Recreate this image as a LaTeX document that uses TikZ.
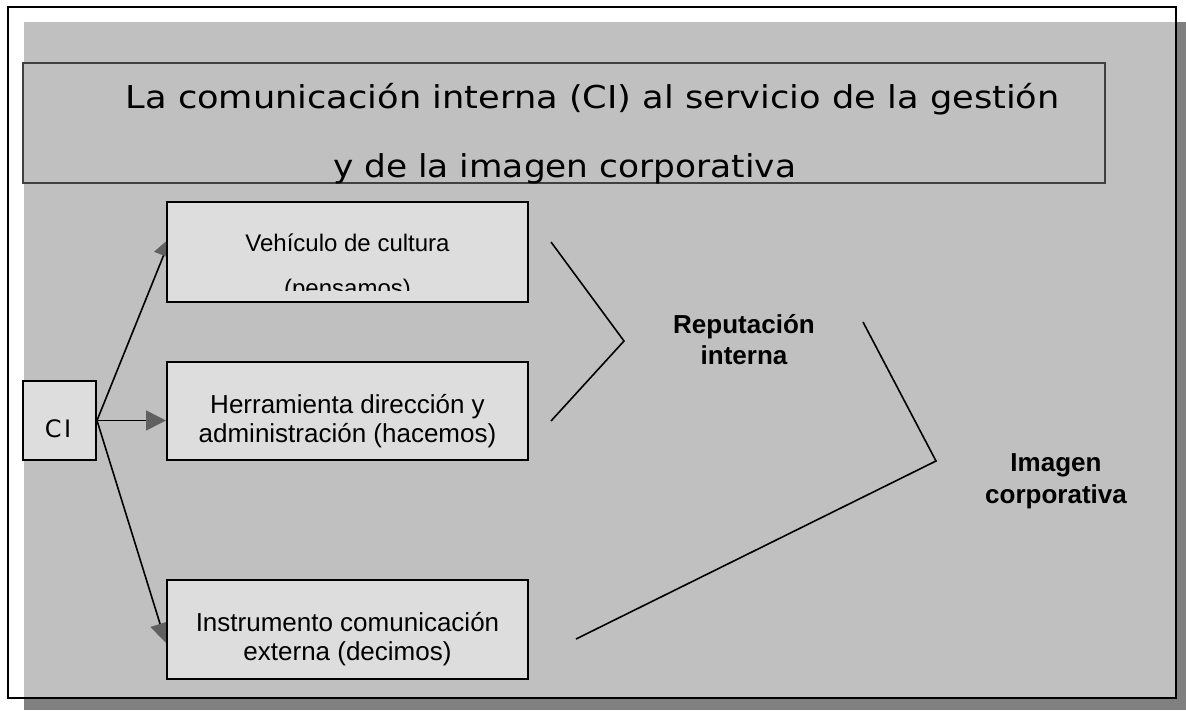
\documentclass[tikz,border=0pt]{standalone}
\usepackage{graphicx}
\usepackage{fontspec}
\setmainfont{Liberation Sans}
\newfontfamily\titlefont{DejaVu Sans}
\usetikzlibrary{arrows.meta,calc}
\pgfdeclarelayer{back}
\pgfdeclarelayer{mid}
\pgfsetlayers{back,mid,main}
\definecolor{bggray}{HTML}{C0C0C0}
\definecolor{shadowgray}{HTML}{808080}
\definecolor{boxgray}{HTML}{DDDDDD}
\definecolor{titleborder}{HTML}{404040}
\definecolor{headgray}{HTML}{606060}
\newsavebox\tla
\newsavebox\tlb
\newlength\tmplen
\begin{document}
\sbox\tla{\titlefont\fontsize{31.5}{36}\selectfont La comunicación interna (CI) al servicio de la gestión}%
\setlength\tmplen{\wd\tla}%
\pgfmathsetmacro\sca{934/\tmplen}%
\sbox\tlb{\titlefont\fontsize{31.5}{36}\selectfont y de la imagen corporativa}%
\setlength\tmplen{\wd\tlb}%
\pgfmathsetmacro\scb{463/\tmplen}%
\begin{tikzpicture}[x=1pt,y=-1pt,
  box/.style={draw=black,line width=2pt,fill=boxgray,inner sep=0pt,minimum width=361pt,minimum height=#1},
  cibox/.style={draw=black,line width=2pt,fill=boxgray,inner sep=0pt,minimum width=73pt,minimum height=79pt},
  titlebox/.style={draw=titleborder,line width=2pt,inner sep=0pt,minimum width=1081.5pt,minimum height=120pt},
  txt/.style={inner sep=0pt,font=\fontsize{26}{30}\selectfont},
  smalltxt/.style={inner sep=0pt,font=\fontsize{24}{28}\selectfont},
  lbl/.style={inner sep=0pt,font=\bfseries\fontsize{26}{30}\selectfont},
  titletxt/.style={inner sep=0pt,text=white,anchor=base west},
  arr/.style={line width=1.6pt,-{Triangle[length=20pt,width=20pt,color=headgray]}},
  conn/.style={line width=1.6pt}]
\useasboundingbox (0,0) rectangle (1186,710);
% background
\begin{pgfonlayer}{back}
\fill[shadowgray] (24,22) rectangle (1186,710);
\fill[white] (8,7) rectangle (1176,698);
\fill[bggray] (24,22) rectangle (1176,698);
\draw[line width=2.4pt] (8,7) rectangle (1176,698);
\end{pgfonlayer}
% title
\node[titlebox] (title) at (563.75,123) {};
\node[titletxt] (t1) at (125.5,108) {\scalebox{\sca}[1]{\usebox\tla}};
\node[titletxt] (t2) at (333,177) {\scalebox{\scb}[1]{\usebox\tlb}};
% boxes
\node[cibox] (ci) at (59.5,420.5) {};
\node[anchor=base,inner sep=0pt,font=\titlefont\fontsize{24}{28}\selectfont] (ciT) at (58,437) {C\kern2.5pt I};
\node[box=100pt] (veh) at (347.5,252) {};
\node[box=98pt] (her) at (347.5,411) {};
\node[box=99pt] (ins) at (347.5,629.5) {};
\node[smalltxt,anchor=base] (vehA) at (347.5,251) {Vehículo de cultura};
\begin{scope}
\clip (167,202) rectangle (528,290);
\node[smalltxt,anchor=base] (vehB) at (347.5,296) {(pensamos)};
\end{scope}
\node[txt,anchor=base] (herA) at (347.5,413) {Herramienta dirección y};
\node[txt,anchor=base] (herB) at (347.5,442) {administración (hacemos)};
\node[txt,anchor=base] (insA) at (347.5,631) {Instrumento comunicación};
\node[txt,anchor=base] (insB) at (347.5,660) {externa (decimos)};
% arrows
\begin{pgfonlayer}{mid}
\draw[arr] (ci.east) -- ($(veh.west)+(5,-15)$);
\draw[arr] (ci.east) -- (ci.east -| her.west);
\draw[arr] (ci.east) -- ($(ins.west)+(0,13.5)$);
\end{pgfonlayer}
% brackets
\coordinate (b1a) at (551,242);
\coordinate (b1v) at (624,341);
\coordinate (b1b) at (551,421);
\coordinate (b2a) at (863,322);
\coordinate (b2v) at (936,461);
\coordinate (b2b) at (576,639);
\draw[conn] (b1a) -- (b1v) -- (b1b);
\draw[conn] (b2a) -- (b2v) -- (b2b);
% labels
\node[lbl,anchor=base] (repA) at (744,333) {Reputación};
\node[lbl,anchor=base] (repB) at (744,364) {interna};
\node[lbl,anchor=base] (imgA) at (1056,471) {Imagen};
\node[lbl,anchor=base] (imgB) at (1056,503) {corporativa};
\end{tikzpicture}
\end{document}
